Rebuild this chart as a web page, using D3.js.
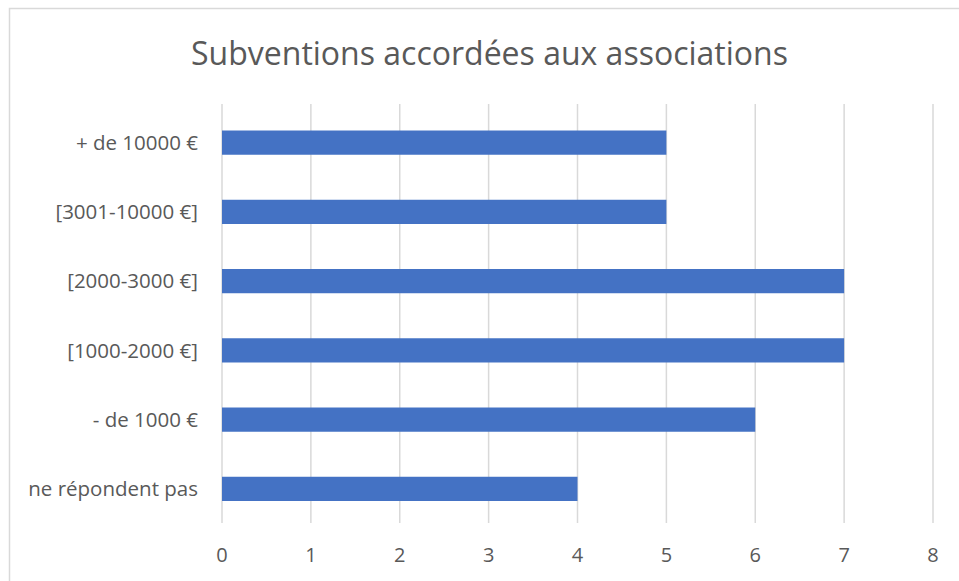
<!DOCTYPE html>
<html>
<head>
<meta charset="utf-8">
<script src="https://cdn.jsdelivr.net/npm/d3@7"></script>
<style>
  body { margin: 0; background: #fff; }
  text { font-family: "Open Sans", "Noto Sans", sans-serif; fill: #595959; }
</style>
</head>
<body>
<div id="chart"></div>
<script>
// Data
var categories = ["+ de 10000 €", "[3001-10000 €]", "[2000-3000 €]", "[1000-2000 €]", "- de 1000 €", "ne répondent pas"];
var values = [5, 5, 7, 7, 6, 4];
var ticks = [0, 1, 2, 3, 4, 5, 6, 7, 8];

var width = 959, height = 581;

var svg = d3.select("#chart")
    .append("svg")
    .attr("width", width)
    .attr("height", height);

// Chart border
svg.append("rect")
    .attr("x", 9.5)
    .attr("y", 8.5)
    .attr("width", 960)
    .attr("height", 600)
    .style("fill", "#fff")
    .style("stroke", "#d9d9d9")
    .style("stroke-width", 1.5);

var x = d3.scaleLinear()
    .domain([0, 8])
    .range([222, 933]);

var y = d3.scaleBand()
    .domain(categories)
    .range([108, 523.5])
    .paddingInner(0.65)
    .paddingOuter(0.325);

// Gridlines
svg.append("g")
    .selectAll("line")
    .data(ticks)
    .enter()
    .append("line")
    .attr("x1", function (d) { return x(d); })
    .attr("x2", function (d) { return x(d); })
    .attr("y1", 104)
    .attr("y2", 523)
    .style("stroke", "#d9d9d9")
    .style("stroke-width", 1.5);

// Bars
svg.append("g")
    .selectAll("rect")
    .data(values)
    .enter()
    .append("rect")
    .attr("x", x(0))
    .attr("y", function (d, i) { return y(categories[i]); })
    .attr("width", function (d) { return x(d) - x(0); })
    .attr("height", y.bandwidth())
    .style("fill", "#4472c4");

// Category labels
svg.append("g")
    .selectAll("text")
    .data(categories)
    .enter()
    .append("text")
    .attr("x", 198)
    .attr("y", function (d) { return y(d) + y.bandwidth() / 2; })
    .attr("dy", "0.35em")
    .attr("text-anchor", "end")
    .style("font-size", "20.5px")
    .text(function (d) { return d; });

// X tick labels
svg.append("g")
    .selectAll("text")
    .data(ticks)
    .enter()
    .append("text")
    .attr("x", function (d) { return x(d); })
    .attr("y", 555)
    .attr("dy", "0.35em")
    .attr("text-anchor", "middle")
    .style("font-size", "20px")
    .text(function (d) { return d; });

// Title
svg.append("text")
    .attr("x", 489.5)
    .attr("y", 65)
    .attr("text-anchor", "middle")
    .style("font-size", "32px")
    .text("Subventions accordées aux associations");
</script>
</body>
</html>
